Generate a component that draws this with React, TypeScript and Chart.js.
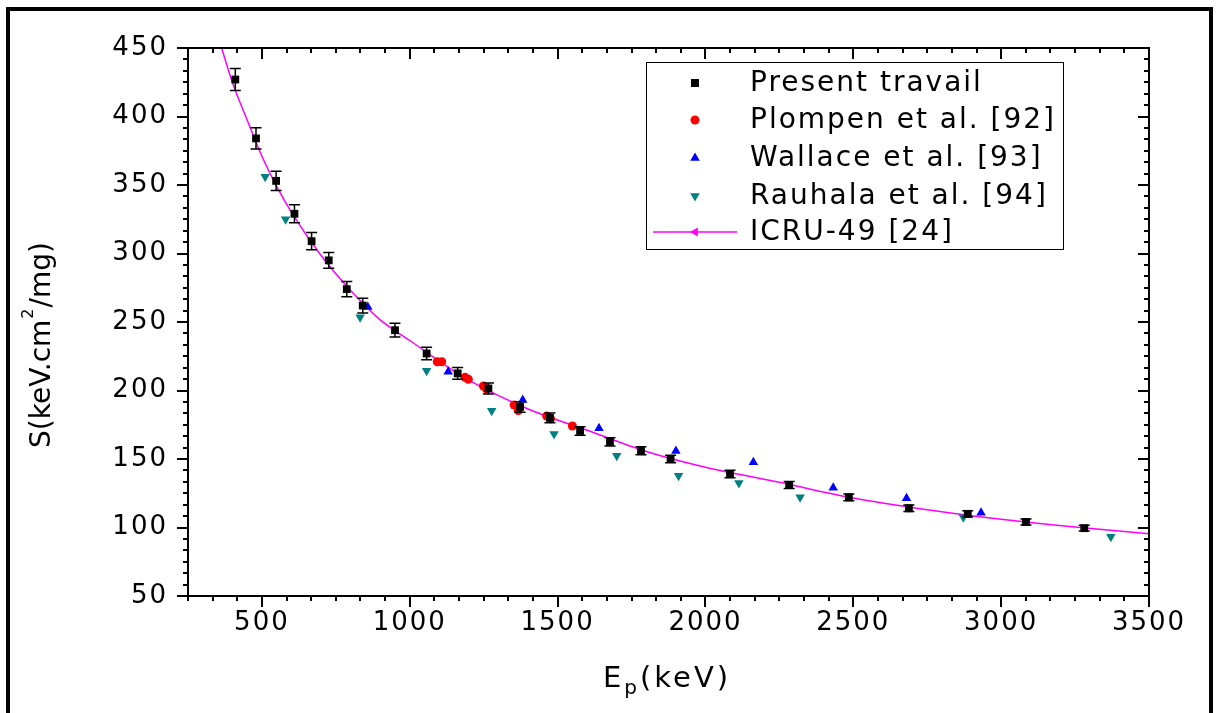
import React, { useEffect, useRef } from 'react';
import { Chart, registerables } from 'chart.js';

Chart.register(...registerables);

const FONT = "'DejaVu Sans', 'Liberation Sans', Arial, sans-serif";

// Present travail (black squares with error bars)
const presentE = [410, 480, 548, 610, 668, 726, 787, 841, 950, 1057, 1162, 1266, 1373, 1474, 1576, 1677, 1782, 1882, 2083, 2283, 2485, 2688, 2887, 3084, 3281];
const presentS = [427, 384, 353, 329, 309, 295, 274, 262, 244, 227, 212.5, 201.5, 188, 180, 170.5, 162.5, 156, 150, 139, 131, 122, 114, 110, 104, 99.5];
const presentErr = [8, 7.7, 7, 6.5, 6.3, 5.8, 5.6, 5.4, 5, 4.5, 4.3, 4, 3.8, 3.5, 3.1, 3, 2.9, 2.8, 2.7, 2.6, 2.5, 2.4, 2.3, 2.2, 2.1];

// Plompen et al. [92] (red circles)
const plompenE = [1093, 1108, 1187, 1198, 1249, 1260, 1353, 1367, 1463, 1476, 1550];
const plompenS = [221, 221, 209.6, 208.2, 203.3, 201, 189.4, 185.3, 181.4, 179.4, 174.1];

// Wallace et al. [93] (blue up triangles)
const wallaceE = [858, 1130, 1382, 1640, 1900, 2162, 2432, 2680, 2932];
const wallaceS = [261, 213.7, 193, 172.4, 155.8, 147.6, 129, 121.3, 110.8];

// Rauhala et al. [94] (teal down triangles)
const rauhalaE = [511, 580, 832, 1057, 1277, 1488, 1700, 1909, 2113, 2320, 2872, 3371];
const rauhalaS = [356, 325, 253.4, 214.5, 185.3, 168.2, 152.4, 137.8, 132.5, 122, 107.4, 93.3];

// ICRU-49 [24] (magenta curve)
const icruE = [350, 400, 450, 500, 550, 600, 700, 800, 900, 1000, 1200, 1400, 1600, 1800, 2000, 2250, 2500, 2750, 3000, 3250, 3500];
const icruS = [460, 425, 397.5, 371, 349, 330, 298.5, 273, 251.5, 236.5, 207.5, 186.5, 171, 155.5, 144, 133, 121.5, 113, 106, 100.3, 95.5];

const xTicks = [500, 1000, 1500, 2000, 2500, 3000, 3500];
const yTicks = [50, 100, 150, 200, 250, 300, 350, 400, 450];

const legendLabels = ['Present travail', 'Plompen et al. [92]', 'Wallace et al. [93]', 'Rauhala et al. [94]', 'ICRU-49 [24]'];
const yTitleParts = ['S(keV.cm', '2', '/mg)'];
const xTitleParts = ['E', 'p', '(keV)'];

const toPts = (xs: number[], ys: number[]) => xs.map((x, i) => ({ x, y: ys[i] }));

const decoPlugin = {
  id: 'deco',
  beforeDraw(chart: any) {
    chart.ctx.letterSpacing = '2px';
  },
  afterDatasetsDraw(chart: any) {
    const ctx = chart.ctx;
    const xs = chart.scales.x;
    const ys = chart.scales.y;
    ctx.save();
    ctx.strokeStyle = '#000';
    ctx.lineWidth = 1.5;
    presentE.forEach((e, i) => {
      const px = xs.getPixelForValue(e);
      const t = ys.getPixelForValue(presentS[i] + presentErr[i]);
      const b = ys.getPixelForValue(presentS[i] - presentErr[i]);
      ctx.beginPath();
      ctx.moveTo(px, t);
      ctx.lineTo(px, b);
      ctx.moveTo(px - 5.5, t);
      ctx.lineTo(px + 5.5, t);
      ctx.moveTo(px - 5.5, b);
      ctx.lineTo(px + 5.5, b);
      ctx.stroke();
    });
    ctx.restore();
  },
  afterDraw(chart: any) {
    const ctx = chart.ctx;
    const xs = chart.scales.x;
    const ys = chart.scales.y;
    const { left, right, top, bottom } = chart.chartArea;
    ctx.save();
    // top & right axis lines
    ctx.strokeStyle = '#000';
    ctx.lineWidth = 2;
    ctx.beginPath();
    ctx.moveTo(left, top);
    ctx.lineTo(right, top);
    ctx.lineTo(right, bottom);
    ctx.stroke();
    // x ticks
    const xStep = 500 / 6;
    for (let i = 0; i <= 39; i++) {
      const v = 250 + i * xStep;
      const px = Math.round(xs.getPixelForValue(v));
      const major = Math.abs(v / 500 - Math.round(v / 500)) < 1e-6;
      const len = major ? 11 : 5;
      ctx.beginPath();
      ctx.moveTo(px, bottom);
      ctx.lineTo(px, bottom + len);
      ctx.moveTo(px, top);
      ctx.lineTo(px, top + len);
      ctx.stroke();
    }
    const yStep = 50 / 6;
    for (let i = 0; i <= 48; i++) {
      const v = 50 + i * yStep;
      const py = Math.round(ys.getPixelForValue(v));
      const major = Math.abs(v / 50 - Math.round(v / 50)) < 1e-6;
      const len = major ? 11 : 5;
      ctx.beginPath();
      ctx.moveTo(left, py);
      ctx.lineTo(left - len, py);
      ctx.moveTo(right, py);
      ctx.lineTo(right - len, py);
      ctx.stroke();
    }

    // legend
    const lx = 646.5, ly = 62.5, lw = 417, lh = 187;
    ctx.fillStyle = '#fff';
    ctx.fillRect(lx, ly, lw, lh);
    ctx.lineWidth = 1;
    ctx.strokeStyle = '#000';
    ctx.strokeRect(lx, ly, lw, lh);
    const rows = [83, 120, 158, 196, 232];
    const mx = 695;
    ctx.fillStyle = '#000';
    ctx.fillRect(mx - 4, rows[0] - 4, 8, 8);
    ctx.fillStyle = '#ff0000';
    ctx.beginPath();
    ctx.arc(mx, rows[1], 4.5, 0, Math.PI * 2);
    ctx.fill();
    ctx.fillStyle = '#0000ff';
    ctx.beginPath();
    ctx.moveTo(mx, rows[2] - 5.5);
    ctx.lineTo(mx + 4.8, rows[2] + 2.8);
    ctx.lineTo(mx - 4.8, rows[2] + 2.8);
    ctx.closePath();
    ctx.fill();
    ctx.fillStyle = '#008080';
    ctx.beginPath();
    ctx.moveTo(mx, rows[3] + 5.5);
    ctx.lineTo(mx + 4.8, rows[3] - 2.8);
    ctx.lineTo(mx - 4.8, rows[3] - 2.8);
    ctx.closePath();
    ctx.fill();
    ctx.strokeStyle = '#ff00ff';
    ctx.lineWidth = 1.5;
    ctx.beginPath();
    ctx.moveTo(653, rows[4]);
    ctx.lineTo(737, rows[4]);
    ctx.stroke();
    ctx.fillStyle = '#ff00ff';
    ctx.beginPath();
    ctx.moveTo(mx - 5, rows[4]);
    ctx.lineTo(mx + 2.8, rows[4] - 4.5);
    ctx.lineTo(mx + 2.8, rows[4] + 4.5);
    ctx.closePath();
    ctx.fill();

    ctx.fillStyle = '#000';
    ctx.font = `28px ${FONT}`;
    ctx.textAlign = 'left';
    ctx.textBaseline = 'middle';
    ctx.letterSpacing = '2px';
    legendLabels.forEach((t, i) => ctx.fillText(t, 750, rows[i] + 1));

    // x title
    ctx.textBaseline = 'alphabetic';
    ctx.letterSpacing = '3px';
    const big = `29px ${FONT}`;
    const small = `20px ${FONT}`;
    ctx.font = big;
    const w0 = ctx.measureText(xTitleParts[0]).width;
    const w2 = ctx.measureText(xTitleParts[2]).width;
    ctx.font = small;
    const w1 = ctx.measureText(xTitleParts[1]).width;
    const x0 = 667 - (w0 + w1 + w2) / 2;
    ctx.font = big;
    ctx.fillText(xTitleParts[0], x0, 687);
    ctx.font = small;
    ctx.fillText(xTitleParts[1], x0 + w0, 694);
    ctx.font = big;
    ctx.fillText(xTitleParts[2], x0 + w0 + w1, 687);

    // y title
    ctx.letterSpacing = '0px';
    ctx.translate(49.5, 346);
    ctx.rotate(-Math.PI / 2);
    const yBig = `28px ${FONT}`;
    const ySmall = `16px ${FONT}`;
    ctx.font = yBig;
    const a = ctx.measureText(yTitleParts[0]).width;
    const c = ctx.measureText(yTitleParts[2]).width;
    ctx.font = ySmall;
    const b = ctx.measureText(yTitleParts[1]).width;
    const start = -(a + b + c) / 2;
    ctx.font = yBig;
    ctx.fillText(yTitleParts[0], start, 0);
    ctx.font = ySmall;
    ctx.fillText(yTitleParts[1], start + a + 1, -17);
    ctx.font = yBig;
    ctx.fillText(yTitleParts[2], start + a + b + 2, 0);
    ctx.restore();
    ctx.letterSpacing = '0px';
  },
};

export default function App() {
  const canvasRef = useRef<HTMLCanvasElement | null>(null);

  useEffect(() => {
    document.body.style.margin = '0';
    const canvas = canvasRef.current;
    if (!canvas) return;
    const chart = new Chart(canvas, {
      type: 'scatter',
      data: {
        datasets: [
          {
            label: legendLabels[0],
            data: toPts(presentE, presentS),
            pointStyle: 'rect',
            pointRadius: 5.5,
            backgroundColor: '#000',
            borderColor: '#000',
            borderWidth: 0,
          },
          {
            label: legendLabels[1],
            data: toPts(plompenE, plompenS),
            pointStyle: 'circle',
            pointRadius: 4.5,
            backgroundColor: '#ff0000',
            borderColor: '#ff0000',
            borderWidth: 0,
          },
          {
            label: legendLabels[2],
            data: toPts(wallaceE, wallaceS),
            pointStyle: 'triangle',
            pointRadius: 5.5,
            backgroundColor: '#0000ff',
            borderColor: '#0000ff',
            borderWidth: 0,
          },
          {
            label: legendLabels[3],
            data: toPts(rauhalaE, rauhalaS),
            pointStyle: 'triangle',
            rotation: 180,
            pointRotation: 180,
            pointRadius: 5.5,
            backgroundColor: '#008080',
            borderColor: '#008080',
            borderWidth: 0,
          } as any,
          {
            label: legendLabels[4],
            data: toPts(icruE, icruS),
            showLine: true,
            pointRadius: 0,
            borderColor: '#ff00ff',
            backgroundColor: '#ff00ff',
            borderWidth: 1.5,
            cubicInterpolationMode: 'monotone',
          } as any,
        ],
      },
      options: {
        responsive: false,
        animation: false,
        devicePixelRatio: 1,
        layout: { padding: { top: 48, right: 67, left: 0, bottom: 0 } },
        plugins: {
          legend: { display: false },
          tooltip: { enabled: false },
          title: { display: false },
        },
        scales: {
          x: {
            type: 'linear',
            min: 250,
            max: 3500,
            afterBuildTicks: (s: any) => {
              s.ticks = xTicks.map((v) => ({ value: v }));
            },
            afterFit: (s: any) => {
              s.height = 117;
            },
            grid: { display: false, drawTicks: false },
            border: { display: true, color: '#000', width: 2 },
            ticks: {
              padding: 12,
              color: '#000',
              maxRotation: 0,
              autoSkip: false,
              font: { family: FONT, size: 26 },
              callback: (v: any) => String(v),
            },
          },
          y: {
            type: 'linear',
            min: 50,
            max: 450,
            afterBuildTicks: (s: any) => {
              s.ticks = yTicks.map((v) => ({ value: v }));
            },
            afterFit: (s: any) => {
              s.width = 188;
            },
            grid: { display: false, drawTicks: false },
            border: { display: true, color: '#000', width: 2 },
            ticks: {
              padding: 20,
              color: '#000',
              autoSkip: false,
              font: { family: FONT, size: 26 },
              callback: (v: any) => String(v),
            },
          },
        },
      } as any,
      plugins: [decoPlugin],
    });
    return () => chart.destroy();
  }, []);

  return (
    <div style={{ position: 'relative', width: 1216, height: 713, overflow: 'hidden', background: '#fff' }}>
      <canvas ref={canvasRef} width={1216} height={713} style={{ display: 'block', width: 1216, height: 713 }} />
      <div
        style={{
          position: 'absolute',
          left: 6,
          top: 7,
          width: 1207,
          height: 800,
          border: '4px solid #000',
          boxSizing: 'border-box',
          pointerEvents: 'none',
        }}
      />
    </div>
  );
}
